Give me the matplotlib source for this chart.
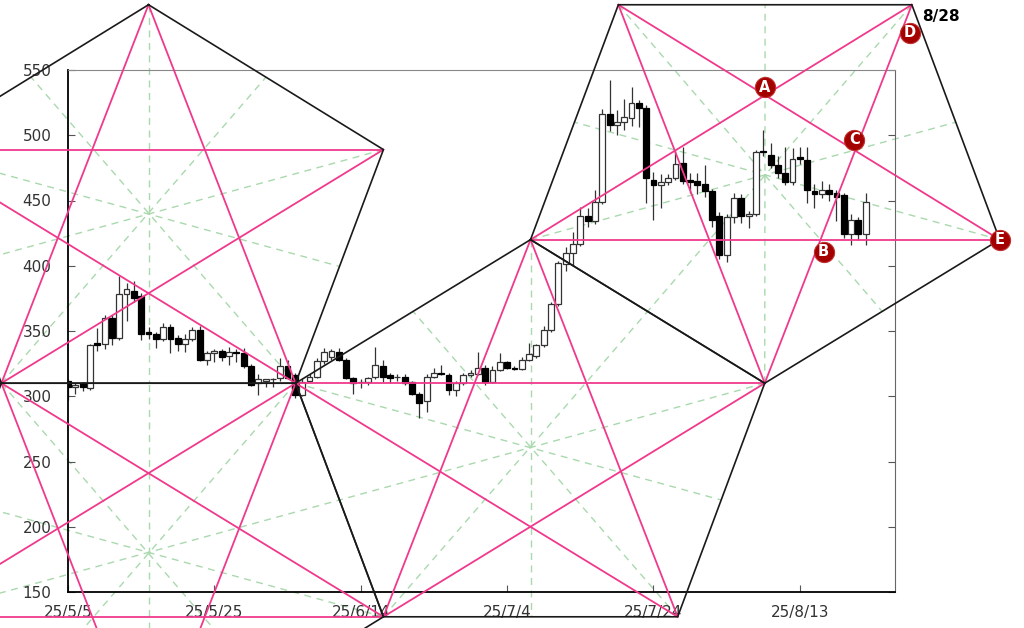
import numpy as np
import pandas as pd
import matplotlib
matplotlib.use('Agg')
import matplotlib.pyplot as plt
from matplotlib.transforms import offset_copy

# 日足 (2025/5/5 から)
start = pd.Timestamp('2025-05-05')
dates = pd.date_range(start, periods=110, freq='D')
opens = [312, 307, 310, 306, 341, 340, 360, 345, 378, 381, 377, 349, 348, 344, 353, 345, 340, 344, 351, 328,
         333, 335, 331, 334, 333, 323, 310, 312, 313, 314, 323, 316, 301, 312, 315, 327, 330, 334, 328, 314,
         311, 311, 315, 323, 316, 315, 315, 311, 302, 296, 315, 318, 316, 305, 310, 316, 317, 322, 311, 320,
         326, 322, 321, 328, 331, 339, 351, 371, 401, 410, 417, 438, 434, 449, 516, 508, 510, 513, 525, 521,
         466, 462, 464, 467, 479, 466, 465, 463, 457, 438, 408, 437, 452, 438, 440, 488, 485, 477, 471, 464,
         483, 481, 457, 455, 458, 456, 454, 424, 435, 424]
highs = [313, 310, 311, 340, 352, 362, 362, 392, 387, 388, 379, 353, 349, 356, 355, 347, 348, 353, 354, 335,
         336, 336, 338, 336, 337, 325, 317, 313, 314, 329, 328, 318, 313, 317, 329, 337, 336, 337, 329, 315,
         313, 315, 338, 328, 318, 317, 317, 312, 303, 317, 322, 324, 318, 312, 318, 320, 334, 324, 323, 333,
         327, 323, 330, 341, 340, 354, 372, 404, 414, 426, 445, 444, 458, 520, 542, 519, 528, 537, 527, 523,
         472, 470, 470, 489, 491, 471, 471, 477, 459, 441, 440, 456, 455, 442, 489, 504, 494, 484, 491, 490,
         491, 491, 463, 465, 463, 458, 456, 440, 437, 456]
lows = [297, 302, 304, 305, 335, 336, 339, 343, 358, 372, 343, 344, 337, 342, 333, 335, 334, 342, 327, 324,
        326, 327, 324, 326, 322, 308, 301, 307, 307, 312, 313, 299, 300, 311, 314, 325, 328, 327, 313, 302,
        306, 309, 313, 311, 310, 312, 309, 301, 283, 288, 314, 316, 301, 300, 309, 315, 316, 309, 310, 319,
        321, 320, 320, 327, 329, 338, 349, 369, 396, 400, 415, 430, 432, 447, 503, 500, 504, 507, 506, 448,
        435, 444, 462, 466, 463, 456, 455, 453, 430, 405, 403, 433, 433, 429, 438, 484, 475, 467, 462, 462,
        478, 448, 444, 452, 450, 434, 421, 416, 420, 416]
closes = [307, 309, 307, 339, 339, 360, 345, 378, 382, 375, 348, 348, 344, 353, 344, 340, 344, 351, 328, 333,
          335, 330, 334, 333, 323, 309, 313, 313, 313, 323, 314, 301, 311, 315, 327, 334, 335, 328, 314, 310,
          311, 314, 324, 315, 314, 315, 310, 302, 295, 315, 318, 317, 305, 310, 316, 318, 322, 311, 320, 326,
          322, 321, 328, 332, 339, 351, 371, 402, 410, 417, 438, 434, 449, 516, 508, 510, 514, 525, 521, 467,
          462, 464, 467, 478, 465, 464, 462, 457, 435, 408, 437, 452, 438, 440, 487, 487, 477, 471, 464, 482,
          482, 458, 455, 458, 455, 453, 424, 435, 424, 449]

tick_days = [0, 20, 40, 60, 80, 100]
tick_labels = ['25/5/5', '25/5/25', '25/6/14', '25/7/4', '25/7/24', '25/8/13']

# 五角形の頂点 (5/5からの日数, 価格)
pent1_x = [11.0, 43.1, 31.1, -9.1, -21.1]
pent1_y = [600, 489, 310, 310, 489]
pent2_x = [63.2, 95.2, 83.3, 43.1, 31.1]
pent2_y = [420, 310, 131, 131, 310]
pent3_x = [95.2, 127.3, 115.3, 75.2, 63.2]
pent3_y = [310, 420, 600, 600, 420]
pent4_x = [-9.1, 31.1, 43.1, 11.0, -21.1]
pent4_y = [310, 310, 131, 20, 131]

point_labels = ['A', 'B', 'C', 'D', 'E']
point_offsets = [(0, 8), (3, -12), (-1, 11), (-2, -28), (0, 0)]

PINK = '#f0398c'
BLACK = '#1a1a1a'
GREEN = '#a9d9ad'


def intersect(p1, p2, p3, p4):
    x1, y1 = p1; x2, y2 = p2; x3, y3 = p3; x4, y4 = p4
    d = (x1 - x2) * (y3 - y4) - (y1 - y2) * (x3 - x4)
    a = x1 * y2 - y1 * x2
    b = x3 * y4 - y3 * x4
    return ((a * (x3 - x4) - (x1 - x2) * b) / d, (a * (y3 - y4) - (y1 - y2) * b) / d)


def draw_pentagon(ax, xs, ys):
    v = list(zip(xs, ys))
    # 中心線
    for i in range(5):
        m = ((v[(i + 2) % 5][0] + v[(i + 3) % 5][0]) / 2, (v[(i + 2) % 5][1] + v[(i + 3) % 5][1]) / 2)
        ax.plot([v[i][0], m[0]], [v[i][1], m[1]], color=GREEN, lw=1.0, ls=(0, (5, 4)), zorder=1, clip_on=False)
    # 対角線 (星形)
    for i in range(5):
        j = (i + 2) % 5
        ax.plot([v[i][0], v[j][0]], [v[i][1], v[j][1]], color=PINK, lw=1.3, zorder=4, clip_on=False)
    # 外周
    ax.plot(list(xs) + [xs[0]], list(ys) + [ys[0]], color=BLACK, lw=1.2, zorder=5, clip_on=False)


fig = plt.figure(figsize=(10.24, 6.28), dpi=100)
ax = fig.add_axes([68 / 1024, 36 / 628, 827 / 1024, 522 / 628])

x = np.array([(d - start).days for d in dates])
o = np.array(opens); h = np.array(highs); l = np.array(lows); c = np.array(closes)
up = c >= o
ax.vlines(x, l, h, color='#333333', lw=0.9, zorder=2)
body_w = 0.8
ax.bar(x[up], (c - o)[up], bottom=o[up], width=body_w, color='white', edgecolor='#333333', lw=0.9, zorder=3)
ax.bar(x[~up], (o - c)[~up], bottom=c[~up], width=body_w, color='black', edgecolor='black', lw=0.9, zorder=3)

for px, py in [(pent1_x, pent1_y), (pent2_x, pent2_y), (pent3_x, pent3_y), (pent4_x, pent4_y)]:
    draw_pentagon(ax, px, py)

# A-E のポイント
v3 = list(zip(pent3_x, pent3_y))
pA = intersect(v3[3], v3[1], v3[4], v3[2])
pB = intersect(v3[0], v3[2], v3[4], v3[1])
pC = intersect(v3[0], v3[2], v3[3], v3[1])
pD = v3[2]
pE = v3[1]
for (px, py), lab, (dx, dy) in zip([pA, pB, pC, pD, pE], point_labels, point_offsets):
    tr = offset_copy(ax.transData, fig=fig, x=dx, y=dy, units='dots')
    ax.plot(px, py, 'o', ms=14.5, color='#a50000', mec='#c03030', mew=0.8, transform=tr, zorder=8, clip_on=False)
    ax.text(px, py, lab, color='white', fontsize=10.5, fontweight='bold', ha='center', va='center',
            transform=tr, zorder=9, clip_on=False)

tr = offset_copy(ax.transData, fig=fig, x=10, y=-12, units='dots')
ax.text(pD[0], pD[1], '8/28', fontsize=11, fontweight='bold', color='black', ha='left', va='center',
        transform=tr, zorder=9, clip_on=False)

ax.set_xlim(0, 113)
ax.set_ylim(150, 550)
ax.set_xticks(tick_days)
ax.set_xticklabels(tick_labels)
ax.set_yticks(range(150, 551, 50))
ax.tick_params(axis='both', direction='in', length=5, labelsize=11, labelcolor='#333333', color='#555555')
ax.tick_params(axis='y', right=True, pad=12)
ax.tick_params(axis='x', pad=9)
ax.spines['left'].set_color('black')
ax.spines['bottom'].set_color('black')
ax.spines['left'].set_linewidth(1.3)
ax.spines['bottom'].set_linewidth(1.3)
ax.spines['top'].set_color('#888888')
ax.spines['right'].set_color('#666666')

plt.savefig('out.png', dpi=100)
